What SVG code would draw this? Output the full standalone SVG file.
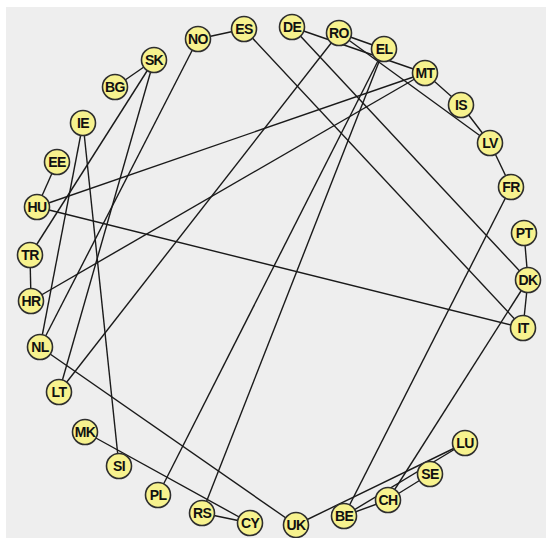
<svg xmlns="http://www.w3.org/2000/svg" width="546" height="538" viewBox="0 0 546 538">
<style>
.bg{fill:#eeeeee}
.e{stroke:#1a1a1a;stroke-width:1.4;fill:none}
.n circle{fill:#f7f28e;stroke:#2e2e2e;stroke-width:1.6}
.n text{font-family:"Liberation Sans",Arial,sans-serif;font-weight:bold;font-size:14px;letter-spacing:-0.6px;fill:#111;text-anchor:middle}
</style>
<rect width="546" height="538" fill="#ffffff"/>
<rect class="bg" x="6" y="7" width="540" height="531"/>
<g id="connectors">
<line class="e" x1="198" y1="39" x2="244" y2="29"/>
<line class="e" x1="244" y1="29" x2="523" y2="328"/>
<line class="e" x1="292" y1="27" x2="528" y2="280"/>
<line class="e" x1="292" y1="27" x2="425" y2="73"/>
<line class="e" x1="339" y1="33" x2="384" y2="49"/>
<line class="e" x1="339" y1="33" x2="490" y2="143"/>
<line class="e" x1="339" y1="33" x2="59" y2="392"/>
<line class="e" x1="384" y1="49" x2="158" y2="495"/>
<line class="e" x1="384" y1="49" x2="202" y2="513"/>
<line class="e" x1="425" y1="73" x2="461" y2="105"/>
<line class="e" x1="425" y1="73" x2="37" y2="207"/>
<line class="e" x1="425" y1="73" x2="31" y2="301"/>
<line class="e" x1="461" y1="105" x2="490" y2="143"/>
<line class="e" x1="490" y1="143" x2="511" y2="187"/>
<line class="e" x1="511" y1="187" x2="344" y2="516"/>
<line class="e" x1="524" y1="233" x2="528" y2="280"/>
<line class="e" x1="528" y1="280" x2="523" y2="328"/>
<line class="e" x1="528" y1="280" x2="388" y2="500"/>
<line class="e" x1="37" y1="207" x2="523" y2="328"/>
<line class="e" x1="465" y1="443" x2="344" y2="516"/>
<line class="e" x1="465" y1="443" x2="296" y2="525"/>
<line class="e" x1="430" y1="474" x2="388" y2="500"/>
<line class="e" x1="388" y1="500" x2="344" y2="516"/>
<line class="e" x1="40" y1="347" x2="296" y2="525"/>
<line class="e" x1="85" y1="432" x2="250" y2="523"/>
<line class="e" x1="202" y1="513" x2="250" y2="523"/>
<line class="e" x1="83" y1="123" x2="119" y2="466"/>
<line class="e" x1="83" y1="123" x2="40" y2="347"/>
<line class="e" x1="57" y1="162" x2="37" y2="207"/>
<line class="e" x1="115" y1="87" x2="154" y2="60"/>
<line class="e" x1="154" y1="60" x2="30" y2="255"/>
<line class="e" x1="154" y1="60" x2="59" y2="392"/>
<line class="e" x1="198" y1="39" x2="40" y2="347"/>
<line class="e" x1="30" y1="255" x2="31" y2="301"/>
</g>
<g id="NO" class="n"><circle cx="198" cy="39" r="12.5"/><text x="198" y="44">NO</text></g>
<g id="ES" class="n"><circle cx="244" cy="29" r="12.5"/><text x="244" y="34">ES</text></g>
<g id="DE" class="n"><circle cx="292" cy="27" r="12.5"/><text x="292" y="32">DE</text></g>
<g id="RO" class="n"><circle cx="339" cy="33" r="12.5"/><text x="339" y="38">RO</text></g>
<g id="EL" class="n"><circle cx="384" cy="49" r="12.5"/><text x="384" y="54">EL</text></g>
<g id="MT" class="n"><circle cx="425" cy="73" r="12.5"/><text x="425" y="78">MT</text></g>
<g id="IS" class="n"><circle cx="461" cy="105" r="12.5"/><text x="461" y="110">IS</text></g>
<g id="LV" class="n"><circle cx="490" cy="143" r="12.5"/><text x="490" y="148">LV</text></g>
<g id="FR" class="n"><circle cx="511" cy="187" r="12.5"/><text x="511" y="192">FR</text></g>
<g id="PT" class="n"><circle cx="524" cy="233" r="12.5"/><text x="524" y="238">PT</text></g>
<g id="DK" class="n"><circle cx="528" cy="280" r="12.5"/><text x="528" y="285">DK</text></g>
<g id="IT" class="n"><circle cx="523" cy="328" r="12.5"/><text x="523" y="333">IT</text></g>
<g id="LU" class="n"><circle cx="465" cy="443" r="12.5"/><text x="465" y="448">LU</text></g>
<g id="SE" class="n"><circle cx="430" cy="474" r="12.5"/><text x="430" y="479">SE</text></g>
<g id="CH" class="n"><circle cx="388" cy="500" r="12.5"/><text x="388" y="505">CH</text></g>
<g id="BE" class="n"><circle cx="344" cy="516" r="12.5"/><text x="344" y="521">BE</text></g>
<g id="UK" class="n"><circle cx="296" cy="525" r="12.5"/><text x="296" y="530">UK</text></g>
<g id="CY" class="n"><circle cx="250" cy="523" r="12.5"/><text x="250" y="528">CY</text></g>
<g id="RS" class="n"><circle cx="202" cy="513" r="12.5"/><text x="202" y="518">RS</text></g>
<g id="PL" class="n"><circle cx="158" cy="495" r="12.5"/><text x="158" y="500">PL</text></g>
<g id="SI" class="n"><circle cx="119" cy="466" r="12.5"/><text x="119" y="471">SI</text></g>
<g id="MK" class="n"><circle cx="85" cy="432" r="12.5"/><text x="85" y="437">MK</text></g>
<g id="LT" class="n"><circle cx="59" cy="392" r="12.5"/><text x="59" y="397">LT</text></g>
<g id="NL" class="n"><circle cx="40" cy="347" r="12.5"/><text x="40" y="352">NL</text></g>
<g id="HR" class="n"><circle cx="31" cy="301" r="12.5"/><text x="31" y="306">HR</text></g>
<g id="TR" class="n"><circle cx="30" cy="255" r="12.5"/><text x="30" y="260">TR</text></g>
<g id="HU" class="n"><circle cx="37" cy="207" r="12.5"/><text x="37" y="212">HU</text></g>
<g id="EE" class="n"><circle cx="57" cy="162" r="12.5"/><text x="57" y="167">EE</text></g>
<g id="IE" class="n"><circle cx="83" cy="123" r="12.5"/><text x="83" y="128">IE</text></g>
<g id="BG" class="n"><circle cx="115" cy="87" r="12.5"/><text x="115" y="92">BG</text></g>
<g id="SK" class="n"><circle cx="154" cy="60" r="12.5"/><text x="154" y="65">SK</text></g>
</svg>
